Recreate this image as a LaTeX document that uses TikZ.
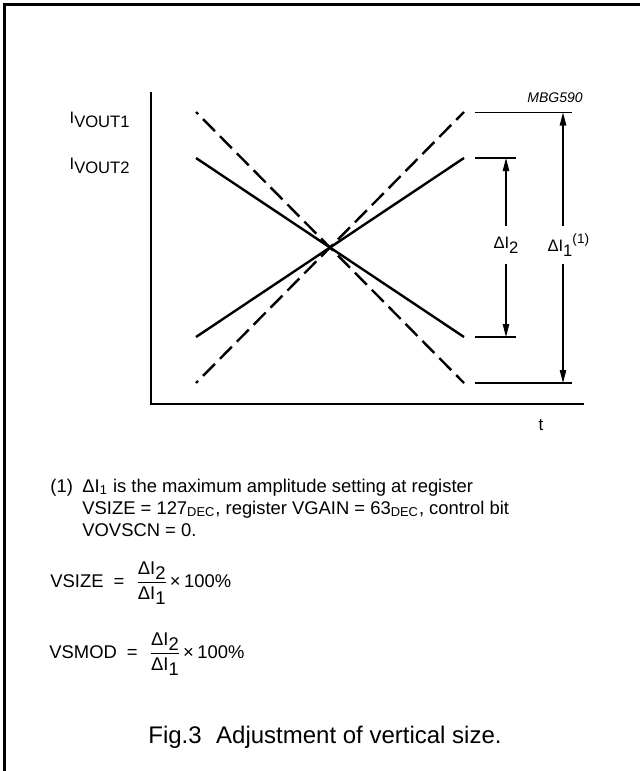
\documentclass[tikz,border=0pt]{standalone}
\usepackage{amsmath}
\usepackage{fontspec}
\setmainfont{Liberation Sans}
\usepackage{tikz}
\usetikzlibrary{arrows.meta,positioning}
\newcommand{\lowsub}[1]{\raisebox{-0.3em}{#1}}
\newcommand{\ratioDI}{$\dfrac{\text{ΔI\lowsub{2}}}{\text{ΔI\lowsub{1}}}$}
\tikzset{
  frameline/.style={line width=1.2pt,draw=black},
  axisline/.style={line width=0.8pt},
  solidcurve/.style={line width=1.2pt},
  dashcurve/.style={line width=1.2pt,dash pattern=on 8.5pt off 3.5pt,dash phase=7pt},
  levelline/.style={line width=0.55pt},
  dimarrow/.style={-{Triangle[length=6.5pt,width=3.2pt]},line width=0.55pt},
  axislabel/.style={font=\fontsize{8.3}{10}\selectfont,inner sep=0pt,anchor=base east},
  dimlabel/.style={font=\fontsize{8.3}{10}\selectfont,inner sep=0pt,minimum height=18.5pt},
  notetext/.style={font=\fontsize{9.2}{11}\selectfont,inner sep=0pt,anchor=base west},
  tagtext/.style={font=\fontsize{7}{8}\selectfont\itshape,inner sep=0pt,anchor=base},
  captext/.style={font=\fontsize{12}{14}\selectfont,inner sep=0pt,anchor=base west}
}
\begin{document}
\begin{tikzpicture}[x=0.5pt,y=-0.5pt]
  \useasboundingbox (0,0) rectangle (639,771);
  % frame, only its top and left edges are on the page
  \draw[frameline] (4.5,790) -- (4.5,4.5) -- (660,4.5);
  % axes
  \coordinate (origin) at (151,404);
  \draw[axisline] (151,92) -- (origin) -- (584,404);
  \node[font=\fontsize{8.5}{10}\selectfont,inner sep=0pt,anchor=base] (tlabel) at (541,430) {t};
  % output current lines
  \coordinate (dashTL) at (196,112);
  \coordinate (dashTR) at (464,112);
  \coordinate (dashBL) at (196,383);
  \coordinate (dashBR) at (464,383);
  \coordinate (solTL) at (196,158);
  \coordinate (solTR) at (464,158);
  \coordinate (solBL) at (196,337);
  \coordinate (solBR) at (464,337);
  \draw[dashcurve] (dashTL) -- (dashBR);
  \draw[dashcurve] (dashBL) -- (dashTR);
  \draw[solidcurve] (solTL) -- (solBR);
  \draw[solidcurve] (solBL) -- (solTR);
  % levels
  \draw[levelline] (475,112.5) -- (572,112.5);
  \draw[levelline] (475,158) -- (516,158);
  \draw[levelline] (475,337) -- (516,337);
  \draw[levelline] (475,383) -- (572,383);
  \coordinate (d2top) at (506,158);
  \coordinate (d2bot) at (506,337);
  \coordinate (d1top) at (563,112.5);
  \coordinate (d1bot) at (563,383);
  % dimension arrows
  \node[dimlabel] (dI2) at (506,245) {ΔI\lowsub{2}};
  \node[dimlabel] (dI1) at (563,245) {ΔI\lowsub{1}\rlap{\raisebox{0.5em}{\fontsize{6.8}{8}\selectfont(1)}}\kern3pt};
  \draw[dimarrow] (dI2) -- (d2top);
  \draw[dimarrow] (dI2) -- (d2bot);
  \draw[dimarrow] (dI1) -- (d1top);
  \draw[dimarrow] (dI1) -- (d1bot);
  % axis labels
  \node[axislabel] (ivout1) at (130,123) {I\lowsub{VOUT1}};
  \node[axislabel] (ivout2) at (130,169) {I\lowsub{VOUT2}};
  \node[tagtext] (mbg) at (555,102) {MBG590};
  % note
  \node[notetext] (fnmark) at (50,492) {(1)};
  \node[notetext] (fn1) at (82,492) {ΔI\textsubscript{1} is the maximum amplitude setting at register};
  \node[notetext] (fn2) at (82,514) {VSIZE = 127\textsubscript{DEC}, register VGAIN = 63\textsubscript{DEC}, control bit};
  \node[notetext] (fn3) at (82,536) {VOVSCN = 0.};
  \node[notetext] (vsize) at (50,587) {VSIZE\hspace{0.55em}=\hspace{0.6em}\ratioDI\hspace{0.1em}×\hspace{0.2em}100\%};
  \node[notetext] (vsmod) at (49,658) {VSMOD\hspace{0.55em}=\hspace{0.6em}\ratioDI\hspace{0.1em}×\hspace{0.2em}100\%};
  \node[captext] (caption) at (148,743) {Fig.3\hspace{0.6em}Adjustment of vertical size.};
\end{tikzpicture}
\end{document}
